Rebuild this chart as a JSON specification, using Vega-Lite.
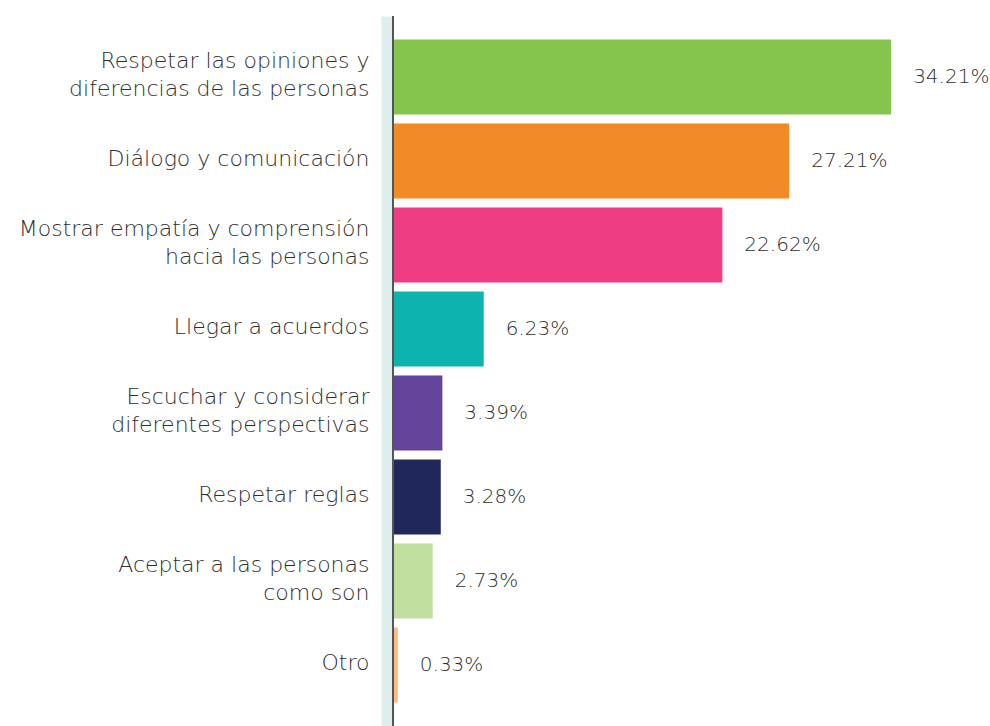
{
  "$schema": "https://vega.github.io/schema/vega-lite/v6.json",
  "width": 597,
  "height": 710,
  "padding": {"left": 393, "top": 16, "right": 0, "bottom": 0},
  "autosize": {"type": "none"},
  "background": "white",
  "config": {"view": {"stroke": null}, "font": "DejaVu Sans"},
  "data": {
    "values": [
      {"cat": "Respetar las opiniones y|diferencias de las personas", "value": 34.21, "color": "#85c54e"},
      {"cat": "Diálogo y comunicación", "value": 27.21, "color": "#f28a25"},
      {"cat": "Mostrar empatía y comprensión|hacia las personas", "value": 22.62, "color": "#ee3d83"},
      {"cat": "Llegar a acuerdos", "value": 6.23, "color": "#0db3ae"},
      {"cat": "Escuchar y considerar|diferentes perspectivas", "value": 3.39, "color": "#63449a"},
      {"cat": "Respetar reglas", "value": 3.28, "color": "#20285b"},
      {"cat": "Aceptar a las personas|como son", "value": 2.73, "color": "#c1df9f"},
      {"cat": "Otro", "value": 0.33, "color": "#fdb980"}
    ]
  },
  "transform": [{"calculate": "format(datum.value, '.2f') + '%'", "as": "label"}],
  "encoding": {
    "y": {
      "field": "cat", "type": "nominal", "sort": null,
      "scale": {"paddingInner": 0.107, "paddingOuter": 0.28},
      "axis": {
        "title": null, "ticks": false, "offset": 6,
        "domainWidth": 12, "domainColor": "#deeeed",
        "labelExpr": "split(datum.label, '|')",
        "labelOffset": {"condition": {"test": "indexof(datum.label, '|') >= 0", "value": -16}, "value": -2},
        "labelPadding": 18, "labelFontSize": 22, "labelFont": "DejaVu Sans", "labelFontWeight": 200,
        "labelColor": "#2e2e2e", "labelLineHeight": 28, "labelLimit": 450
      }
    }
  },
  "layer": [
    {
      "mark": {"type": "bar"},
      "encoding": {
        "x": {"field": "value", "type": "quantitative", "scale": {"domain": [0, 41], "nice": false}, "axis": null},
        "color": {"field": "color", "type": "nominal", "scale": null}
      }
    },
    {
      "mark": {"type": "text", "align": "left", "baseline": "middle", "dx": 22, "fontSize": 20, "font": "DejaVu Sans", "fontWeight": 200, "color": "#2e2e2e"},
      "encoding": {
        "x": {"field": "value", "type": "quantitative"},
        "text": {"field": "label"}
      }
    },
    {
      "mark": {"type": "rule", "color": "#555555", "strokeWidth": 2},
      "encoding": {"x": {"datum": 0}, "y": {"value": 0}, "y2": {"value": 710}}
    }
  ]
}
